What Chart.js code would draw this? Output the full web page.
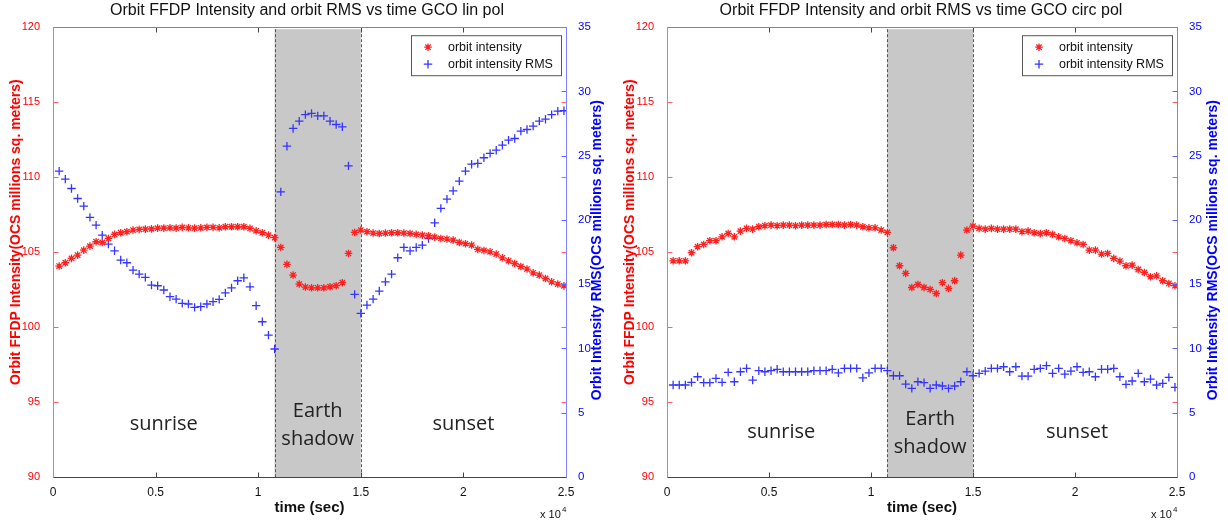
<!DOCTYPE html>
<html>
<head>
<meta charset="utf-8">
<script src="https://cdn.jsdelivr.net/npm/chart.js@4.4.0/dist/chart.umd.min.js"></script>
<style>
body { margin: 0; background: #fff; }
#wrap { position: relative; width: 1228px; height: 523px; }
.box { position: absolute; top: 0; width: 614px; height: 523px; }
</style>
</head>
<body>
<div id="wrap">
	<div class="box" style="left:0"><canvas id="linChart"></canvas></div>
	<div class="box" style="left:614px"><canvas id="circChart"></canvas></div>
</div>
<script>
// sample times (sec)
const times = [300,600,900,1200,1500,1800,2100,2400,2700,3000,3300,3600,3900,4200,4500,4800,5100,5400,5700,6000,6300,6600,6900,7200,7500,7800,8100,8400,8700,9000,9300,9600,9900,10200,10500,10800,11100,11400,11700,12000,12300,12600,12900,13200,13500,13800,14100,14400,14700,15000,15300,15600,15900,16200,16500,16800,17100,17400,17700,18000,18300,18600,18900,19200,19500,19800,20100,20400,20700,21000,21300,21600,21900,22200,22500,22800,23100,23400,23700,24000,24300,24600,24900];

// GCO lin pol
const linIntensity = [104.07,104.29,104.58,104.8,105.13,105.4,105.69,105.64,105.91,106.18,106.29,106.36,106.47,106.51,106.53,106.55,106.6,106.6,106.62,106.6,106.65,106.62,106.6,106.62,106.65,106.65,106.62,106.69,106.69,106.69,106.69,106.58,106.42,106.29,106.13,105.96,
	105.31,104.18,103.47,102.87,102.67,102.62,102.62,102.62,102.69,102.76,102.96,104.91,106.31,
	106.47,106.36,106.27,106.24,106.27,106.29,106.29,106.27,106.24,106.18,106.13,106.09,106.0,105.91,105.87,105.8,105.64,105.56,105.47,105.18,105.11,105.02,104.87,104.62,104.42,104.24,104.04,103.87,103.62,103.47,103.24,103.02,102.87,102.75];
const linRms = [23.8,23.18,22.45,21.67,21.08,20.2,19.6,18.82,18.12,17.6,16.88,16.67,16.1,15.79,15.53,14.93,14.88,14.55,14.03,13.84,13.51,13.46,13.2,13.25,13.46,13.64,13.82,14.33,14.72,15.27,15.5,14.8,13.33,12.08,11.04,9.96,
	22.19,25.74,27.12,27.69,28.2,28.29,28.1,28.1,27.69,27.43,27.25,24.21,14.21,
	12.73,13.38,13.84,14.47,15.19,15.79,17.06,17.86,17.6,17.86,18.04,18.56,19.78,20.9,21.62,22.27,23.02,23.8,24.34,24.4,24.84,25.18,25.43,25.82,26.21,26.34,26.91,27.04,27.3,27.69,27.84,28.2,28.47,28.5];

// GCO circ pol
const circIntensity = [104.42,104.42,104.42,104.96,105.36,105.51,105.76,105.76,106.02,106.24,106.02,106.4,106.58,106.53,106.69,106.76,106.8,106.76,106.8,106.8,106.76,106.8,106.8,106.8,106.8,106.84,106.84,106.84,106.8,106.84,106.8,106.69,106.62,106.62,106.47,106.31,
	105.29,104.09,103.58,102.64,102.84,102.64,102.51,102.24,102.96,102.58,103.09,104.8,106.47,
	106.73,106.58,106.53,106.58,106.53,106.53,106.53,106.53,106.36,106.4,106.29,106.24,106.29,106.18,106.02,105.91,105.76,105.62,105.51,105.13,105.13,104.87,104.91,104.58,104.4,104.09,104.13,103.84,103.64,103.36,103.42,103.09,102.91,102.76];
const circRms = [7.16,7.16,7.16,7.36,7.8,7.34,7.34,7.67,7.36,8.14,7.41,8.19,8.45,7.54,8.27,8.19,8.27,8.38,8.19,8.19,8.19,8.19,8.19,8.27,8.27,8.27,8.38,8.1,8.45,8.45,8.45,7.72,8.1,8.45,8.45,8.27,
	7.88,7.88,7.23,6.9,7.41,7.34,6.9,7.16,7.08,6.9,7.08,7.41,8.19,
	7.88,8.06,8.24,8.45,8.45,8.58,8.19,8.58,7.85,7.85,8.38,8.45,8.66,8.06,8.45,8.0,8.24,8.58,8.14,8.19,7.8,8.38,8.38,8.45,7.8,7.21,7.47,8.06,7.41,7.62,7.16,7.28,7.75,6.98];

const shadowStart = 10800;
const shadowEnd = 15000;
const legendLabels = ['orbit intensity', 'orbit intensity RMS'];
const leftTitle = 'Orbit FFDP Intensity(OCS millions sq. meters)';
const rightTitle = 'Orbit Intensity RMS(OCS millions sq. meters)';

const pts = (ys) => times.map((t, i) => ({ x: t, y: ys[i] }));

function vText(ctx, text, x, y, color) {
	ctx.save();
	ctx.translate(x, y);
	ctx.rotate(-Math.PI / 2);
	ctx.fillStyle = color;
	ctx.font = 'bold 14px "Liberation Sans"';
	ctx.textAlign = 'center';
	ctx.textBaseline = 'middle';
	ctx.fillText(text, 0, 0);
	ctx.restore();
}

const framePlugin = {
	id: 'frame',
	beforeDatasetsDraw(chart) {
		const { ctx, chartArea: a, scales: { x } } = chart;
		const x0 = x.getPixelForValue(shadowStart);
		const x1 = x.getPixelForValue(shadowEnd);
		ctx.save();
		ctx.fillStyle = '#c8c8c8';
		ctx.fillRect(x0, a.top + 2, x1 - x0, a.bottom - a.top - 2);
		ctx.strokeStyle = '#555';
		ctx.lineWidth = 1;
		ctx.setLineDash([3, 2]);
		for (const px of [x0, x1]) {
			ctx.beginPath();
			ctx.moveTo(Math.round(px) + 0.5, a.top + 2);
			ctx.lineTo(Math.round(px) + 0.5, a.bottom);
			ctx.stroke();
		}
		ctx.restore();
	},
	afterDatasetsDraw(chart, args, opts) {
		const { ctx, scales: { x, y } } = chart;
		ctx.save();
		ctx.fillStyle = '#222';
		ctx.font = '20px "Open Sans"';
		ctx.textAlign = 'center';
		ctx.textBaseline = 'middle';
		opts.labels.forEach(l => {
			ctx.fillText(l.text, x.getPixelForValue(l.x), y.getPixelForValue(l.y));
		});
		ctx.restore();
	},
	afterDraw(chart, args, opts) {
		const { ctx, chartArea: a, scales: { x, y, y1 } } = chart;
		ctx.save();
		ctx.lineWidth = 1;
		const line = (x0, y0, x2, y2, c) => {
			ctx.strokeStyle = c;
			ctx.beginPath();
			ctx.moveTo(x0, y0);
			ctx.lineTo(x2, y2);
			ctx.stroke();
		};
		const L = Math.round(a.left) + 0.5, R = Math.round(a.right) + 0.5;
		const T = Math.round(a.top) + 0.5, B = Math.round(a.bottom) + 0.5;
		// inward ticks
		x.ticks.forEach(t => {
			const px = Math.round(x.getPixelForValue(t.value)) + 0.5;
			line(px, B, px, B - 5, '#444');
			line(px, T, px, T + 5, '#444');
		});
		y.ticks.forEach(t => {
			const py = Math.round(y.getPixelForValue(t.value)) + 0.5;
			line(L, py, L + 5, py, '#ff6060');
			line(R, py, R - 5, py, '#ff6060');
		});
		y1.ticks.forEach(t => {
			const py = Math.round(y1.getPixelForValue(t.value)) + 0.5;
			line(R, py, R - 5, py, '#6060ff');
		});
		// frame
		line(L, T, R, T, '#888');
		line(L, B, R, B, '#444');
		line(L, T, L, B, '#ff7070');
		line(R, T, R, B, '#8080ff');

		// legend
		const bx = a.right - 155, by = a.top + 8, bw = 150, bh = 40;
		ctx.fillStyle = '#fff';
		ctx.fillRect(bx, by, bw, bh);
		ctx.strokeStyle = '#555';
		ctx.strokeRect(bx + 0.5, by + 0.5, bw, bh);
		ctx.font = '12.5px "Liberation Sans"';
		ctx.textBaseline = 'middle';
		chart.data.datasets.forEach((ds, i) => {
			const ly = by + 12 + i * 17;
			ctx.strokeStyle = ds.borderColor;
			ctx.lineWidth = ds.borderWidth;
			Chart.helpers.drawPoint(ctx, { pointStyle: ds.pointStyle, radius: ds.pointRadius, borderWidth: ds.borderWidth, rotation: 0 }, bx + 17, ly);
			ctx.fillStyle = '#111';
			ctx.fillText(legendLabels[i], bx + 37, ly);
		});

		// axis titles, both read bottom to top
		const mid = (a.top + a.bottom) / 2;
		vText(ctx, leftTitle, a.left - 37, mid - 20, 'red');
		vText(ctx, rightTitle, a.right + opts.rightTitleX, mid - 2, 'blue');

		// exponent
		ctx.fillStyle = '#111';
		ctx.font = '11px "Liberation Sans"';
		ctx.textAlign = 'left';
		ctx.textBaseline = 'alphabetic';
		ctx.fillText('x 10', a.right - 26, a.bottom + 41);
		ctx.font = '8px "Liberation Sans"';
		ctx.fillText('4', a.right - 4, a.bottom + 35);
		ctx.restore();
	}
};

function makeChart(id, title, intensity, rms, rightWidth, labels, rightTitleX) {
	const ctx = document.getElementById(id).getContext('2d');
	return new Chart(ctx, {
		type: 'scatter',
		data: {
			datasets: [
				{
					label: legendLabels[0],
					data: pts(intensity),
					yAxisID: 'y',
					pointStyle: 'star',
					pointRadius: 3.8,
					borderWidth: 1.3,
					borderColor: '#ff2020',
					backgroundColor: '#ff2020'
				},
				{
					label: legendLabels[1],
					data: pts(rms),
					yAxisID: 'y1',
					pointStyle: 'cross',
					pointRadius: 4.2,
					borderWidth: 1.3,
					borderColor: '#3535ff',
					backgroundColor: '#3535ff'
				}
			]
		},
		options: {
			responsive: true,
			maintainAspectRatio: false,
			animation: false,
			layout: { padding: 0 },
			plugins: {
				legend: { display: false },
				tooltip: { enabled: false },
				title: {
					display: true,
					text: title,
					color: '#111',
					font: { family: 'Liberation Sans', size: 16, weight: 'normal' },
					padding: { top: 1, bottom: 7 }
				},
				frame: { labels: labels, rightTitleX: rightTitleX }
			},
			scales: {
				x: {
					type: 'linear',
					min: 0,
					max: 25000,
					grid: { display: false },
					border: { display: false },
					ticks: {
						stepSize: 5000,
						color: '#111',
						padding: 0,
						font: { family: 'Liberation Sans', size: 12 },
						callback: v => v / 10000
					},
					title: {
						display: true,
						text: 'time (sec)',
						color: '#111',
						font: { family: 'Liberation Sans', size: 15, weight: 'bold' },
						padding: { top: 0, bottom: 6 }
					},
					afterFit: s => { s.height = 46; }
				},
				y: {
					position: 'left',
					min: 90,
					max: 120,
					grid: { display: false },
					border: { display: false },
					ticks: {
						stepSize: 5,
						color: 'red',
						padding: 5,
						font: { family: 'Liberation Sans', size: 11 }
					},
					afterFit: s => { s.width = 53; }
				},
				y1: {
					position: 'right',
					min: 0,
					max: 35,
					grid: { display: false },
					border: { display: false },
					ticks: {
						stepSize: 5,
						color: 'blue',
						padding: 4,
						font: { family: 'Liberation Sans', size: 11.5 }
					},
					afterFit: s => { s.width = rightWidth; }
				}
			}
		},
		plugins: [framePlugin]
	});
}

makeChart('linChart', 'Orbit FFDP Intensity and orbit RMS vs time GCO lin pol', linIntensity, linRms, 48, [
	{ text: 'sunrise', x: 5400, y: 93.5 },
	{ text: 'Earth', x: 12900, y: 94.35 },
	{ text: 'shadow', x: 12900, y: 92.5 },
	{ text: 'sunset', x: 20000, y: 93.5 }
], 31);

makeChart('circChart', 'Orbit FFDP Intensity and orbit RMS vs time GCO circ pol', circIntensity, circRms, 51, [
	{ text: 'sunrise', x: 5600, y: 93.0 },
	{ text: 'Earth', x: 12900, y: 93.85 },
	{ text: 'shadow', x: 12900, y: 92.0 },
	{ text: 'sunset', x: 20100, y: 93.0 }
], 36);
</script>
</body>
</html>
